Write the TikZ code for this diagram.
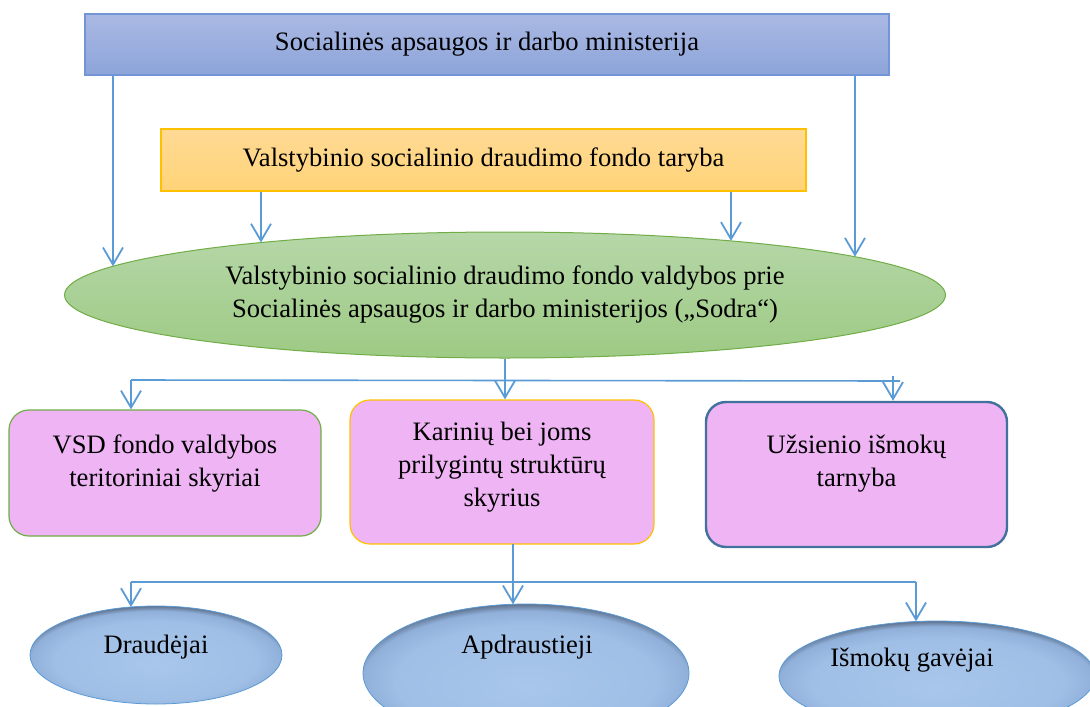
\documentclass[tikz,border=0pt]{standalone}
\usepackage{fontspec}
\setmainfont{Liberation Serif}
\usetikzlibrary{arrows.meta,shapes.geometric}
\definecolor{linec}{HTML}{5B9BD5}
\definecolor{topA}{HTML}{ABB9E3}
\definecolor{topB}{HTML}{8CA4DA}
\definecolor{topD}{HTML}{7295D5}
\definecolor{orA}{HTML}{FFDA95}
\definecolor{orB}{HTML}{FFD377}
\definecolor{orD}{HTML}{FFC000}
\definecolor{grA}{HTML}{B6D7A8}
\definecolor{grB}{HTML}{9DCA84}
\definecolor{grD}{HTML}{70AD47}
\definecolor{pinkF}{HTML}{EEB4F4}
\definecolor{bluD}{HTML}{41719C}
\definecolor{ellin}{HTML}{A8C6EB}
\definecolor{ellmid}{HTML}{A0BFE6}
\definecolor{ellsd}{HTML}{90B0DA}
\definecolor{ellrim}{HTML}{5A6C86}
\definecolor{ellrimB}{HTML}{3A4859}
\pgfdeclareradialshading{rimshade}{\pgfpoint{0bp}{-5bp}}{color(0bp)=(ellin); color(20bp)=(ellmid); color(25bp)=(ellsd); color(27.5bp)=(ellrim); color(30bp)=(ellrimB); color(50bp)=(ellrimB)}
\tikzset{
  txt/.style={font=\fontsize{26.6}{33}\selectfont, align=center, inner sep=0pt},
  arr/.style={draw=linec, line width=1.8pt, -{Straight Barb[length=17pt,width=20pt,line width=1.8pt]}},
  bar/.style={draw=linec, line width=1.6pt},
  pbox/.style={rectangle, rounded corners=20pt, fill=pinkF, inner sep=0pt},
  bell/.style={ellipse, draw=linec, line width=0.8pt, shading=rimshade, inner sep=0pt},
}
\begin{document}
\begin{tikzpicture}[x=1pt,y=-1pt]
\useasboundingbox (0,0) rectangle (1090,707);
\clip (0,0) rectangle (1090,707);

% top boxes
\node[rectangle, top color=topA, bottom color=topB, draw=topD, line width=1.4pt,
      minimum width=804pt, minimum height=61pt, inner sep=0pt, txt] (min) at (487,44.5)
      {Socialinės apsaugos ir darbo ministerija};
\node[rectangle, top color=orA, bottom color=orB, draw=orD, line width=1.8pt,
      minimum width=645pt, minimum height=62pt, inner sep=0pt, txt] (tar) at (483.5,160)
      {Valstybinio socialinio draudimo fondo taryba};

% green ellipse
\node[ellipse, top color=grA, bottom color=grB, draw=grD, line width=1pt,
      minimum width=881pt, minimum height=126pt, inner sep=0pt, txt] (sod) at (505,295)
      {Valstybinio socialinio draudimo fondo valdybos prie\\Socialinės apsaugos ir darbo ministerijos („Sodra“)};

% pink boxes
\node[pbox, draw=grD, line width=1.2pt, minimum width=312pt, minimum height=126pt] (b1) at (165,473) {};
\node[txt] (b1t) at (165,463.5) {VSD fondo valdybos\\teritoriniai skyriai};
\node[pbox, draw=orD, line width=1.2pt, minimum width=304pt, minimum height=144pt] (b2) at (502,472) {};
\node[txt] (b2t) at (502,467) {Karinių bei joms\\prilygintų struktūrų\\skyrius};
\node[pbox, draw=bluD, line width=2.4pt, minimum width=301pt, minimum height=145pt] (b3) at (856.5,474.5) {};
\node[txt] (b3t) at (856.5,464) {Užsienio išmokų\\tarnyba};

% bottom ellipses
\node[bell, minimum width=252pt, minimum height=98pt] (e1) at (156,655) {};
\node[txt] (e1t) at (156,647) {Draudėjai};
\node[bell, minimum width=326pt, minimum height=138pt] (e2) at (526,673) {};
\node[txt] (e2t) at (527,647) {Apdraustieji};
\node[bell, minimum width=316pt, minimum height=110pt] (e3) at (937,676) {};
\node[txt] (e3t) at (912,660) {Išmokų gavėjai};

% arrows to green ellipse
\coordinate (p1) at (113,266.3);
\coordinate (p2) at (855,256.7);
\coordinate (p3) at (261,242.5);
\coordinate (p4) at (731,240.9);
\draw[arr] (min.south -| p1) -- (p1);
\draw[arr] (min.south -| p2) -- (p2);
\draw[arr] (tar.south -| p3) -- (p3);
\draw[arr] (tar.south -| p4) -- (p4);

% branch to pink boxes
\coordinate (bl) at (131,380);
\coordinate (bm) at (893,381);
\coordinate (br) at (900,381);
\draw[bar] (bl) -- (br);
\draw[arr] (bl) -- (bl |- b1.north);
\draw[arr] (sod.south) -- (sod.south |- b2.north);
\draw[arr] (893,376) -- (bm |- b3.north);

% branch to bottom ellipses
\coordinate (cl) at (131,582);
\coordinate (cm) at (513,544);
\coordinate (cr) at (916,582);
\draw[bar] (cl) -- (cr);
\draw[arr] (cl) -- (131,607);
\draw[arr] (cm) -- (513,604.3);
\draw[arr] (cr) -- (916,621.3);
\end{tikzpicture}
\end{document}
